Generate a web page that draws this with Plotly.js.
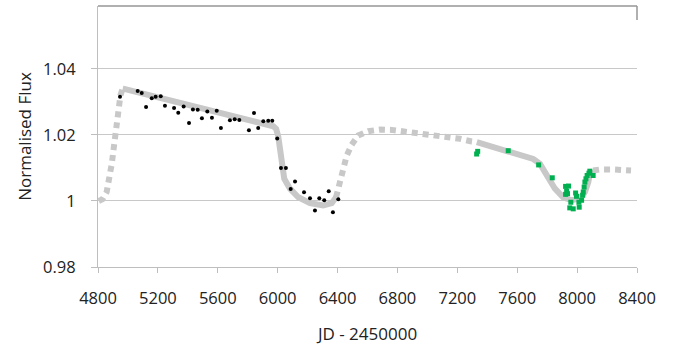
<!DOCTYPE html>
<html>
<head>
<meta charset="utf-8">
<script src="https://cdn.plot.ly/plotly-3.0.1.min.js"></script>
<style>html,body{margin:0;padding:0;background:#fff;}#chart{width:677px;height:351px;}</style>
</head>
<body>
<div id="chart"></div>
<script>
// Model curve pieces (dotted = gaps, solid = observed stretches)
const modelDot1X = [4805, 4830, 4858, 4880, 4893, 4905, 4915, 4925, 4937, 4950, 4965];
const modelDot1Y = [1.000, 1.0005, 1.0027, 1.0072, 1.0115, 1.016, 1.020, 1.024, 1.028, 1.032, 1.034];

const modelSolid1X = [4965, 4975, 5971, 5990, 6004, 6015, 6027, 6044, 6082, 6138, 6216, 6304, 6361, 6390];
const modelSolid1Y = [1.034, 1.0339, 1.0226, 1.0218, 1.0195, 1.0152, 1.0102, 1.0067, 1.0037, 1.0011, 0.9993, 0.9986, 0.9993, 1.0011];

const modelDot2X = [6390, 6420, 6461, 6494, 6538, 6605, 6683, 6761, 6839, 6917, 6995, 7066, 7144, 7218, 7296, 7330];
const modelDot2Y = [1.0011, 1.006, 1.0137, 1.017, 1.0198, 1.0211, 1.0216, 1.0215, 1.0211, 1.0206, 1.0203, 1.0200, 1.0195, 1.0188, 1.0180, 1.0178];

const modelSolid2X = [7330, 7540, 7650, 7707, 7752, 7796, 7852, 7907, 7963, 8019, 8052, 8075, 8085, 8107];
const modelSolid2Y = [1.0178, 1.0147, 1.0135, 1.0127, 1.0112, 1.0077, 1.0037, 1.0011, 1.0002, 1.0007, 1.0027, 1.0057, 1.0082, 1.0092];

const modelDot3X = [8107, 8150, 8250, 8360];
const modelDot3Y = [1.0092, 1.0095, 1.0095, 1.0092];

// Observations (black)
const blackX = [4947, 5065, 5092, 5121, 5159, 5185, 5219, 5247, 5308, 5336, 5372, 5408, 5434,
  5466, 5494, 5530, 5561, 5593, 5621, 5681, 5713, 5744, 5808, 5842, 5870, 5904, 5937, 5964,
  5997, 6022, 6055, 6116, 6087, 6176, 6216, 6249, 6278, 6311, 6341, 6369, 6405];
const blackY = [1.0315, 1.0333, 1.0327, 1.0284, 1.0311, 1.0315, 1.0317, 1.0288, 1.0281, 1.0267, 1.0286, 1.0236, 1.0277,
  1.0276, 1.0250, 1.0271, 1.0252, 1.0273, 1.0221, 1.0244, 1.0247, 1.0245, 1.0214, 1.0266, 1.0221, 1.0241, 1.0243, 1.0243,
  1.0189, 1.0100, 1.0100, 1.0059, 1.0036, 1.0026, 1.0008, 0.9971, 1.0008, 1.0002, 1.0029, 0.9966, 1.0005];

// Observations (green)
const greenX = [7329, 7336, 7540, 7743, 7834, 7923, 7943, 7930, 7923, 7936, 7958, 7951, 7974, 7990, 7996,
  8012, 8014, 8030, 8037, 8041, 8047, 8052, 8059, 8067, 8079, 8085, 8107];
const greenY = [1.0142, 1.0150, 1.0152, 1.0109, 1.0070, 1.0044, 1.0045, 1.0030, 1.0020, 1.0022, 0.9996, 0.9979, 0.9976, 1.0024, 1.0014,
  0.9996, 0.9981, 1.0002, 1.0017, 1.0027, 1.0042, 1.0057, 1.0067, 1.0077, 1.0084, 1.0090, 1.0077];

const xTicks = [4800, 5200, 5600, 6000, 6400, 6800, 7200, 7600, 8000, 8400];
const yTicks = [0.98, 1, 1.02, 1.04];
const yTickText = ['0.98', '1', '1.02', '1.04'];

const gray = 'rgb(200,200,200)';
const dotLine = {color: gray, width: 6, dash: '6px,5px'};
const solidLine = {color: gray, width: 6};

const traces = [
  {x: modelDot1X, y: modelDot1Y, mode: 'lines', line: dotLine, hoverinfo: 'skip'},
  {x: modelSolid1X, y: modelSolid1Y, mode: 'lines', line: solidLine, hoverinfo: 'skip'},
  {x: modelDot2X, y: modelDot2Y, mode: 'lines', line: dotLine, hoverinfo: 'skip'},
  {x: modelSolid2X, y: modelSolid2Y, mode: 'lines', line: solidLine, hoverinfo: 'skip'},
  {x: modelDot3X, y: modelDot3Y, mode: 'lines', line: dotLine, hoverinfo: 'skip'},
  {x: blackX, y: blackY, mode: 'markers', marker: {color: '#000', size: 4, symbol: 'circle'}},
  {x: greenX, y: greenY, mode: 'markers', marker: {color: 'rgb(0,176,80)', size: 5, symbol: 'square'}}
];

const fnt = {family: 'Open Sans, sans-serif', size: 16.5, color: '#222'};
const tfnt = {family: 'Open Sans, sans-serif', size: 17, color: '#222'};
const layout = {
  width: 677, height: 351,
  margin: {l: 98, r: 40, t: 6, b: 84},
  paper_bgcolor: '#fff', plot_bgcolor: '#fff',
  showlegend: false,
  font: fnt,
  xaxis: {
    range: [4800, 8400], tickvals: xTicks, ticktext: xTicks.map(String),
    showgrid: false, zeroline: false,
    showline: true, linecolor: 'rgb(190,190,190)', linewidth: 1,
    ticks: 'outside', ticklen: 5, tickcolor: 'rgb(190,190,190)',
    ticklabelstandoff: 11, tickfont: fnt,
    title: {text: 'JD - 2450000', font: tfnt, standoff: 20}
  },
  yaxis: {
    range: [0.98, 1.059], tickvals: yTicks, ticktext: yTickText,
    showgrid: true, gridcolor: 'rgb(200,200,200)', gridwidth: 1, zeroline: false,
    showline: true, linecolor: 'rgb(190,190,190)', linewidth: 1,
    ticks: 'outside', ticklen: 6, tickcolor: 'rgb(190,190,190)',
    ticklabelstandoff: 12, tickfont: fnt,
    title: {text: 'Normalised Flux', font: tfnt, standoff: 7}
  },
  shapes: [
    {type: 'line', xref: 'paper', yref: 'paper', x0: 0, x1: 1, y0: 1, y1: 1, line: {color: 'rgb(150,150,150)', width: 1.5}},
    {type: 'line', xref: 'paper', yref: 'paper', x0: 1, x1: 1, y0: 1, y1: 0.946, line: {color: 'rgb(150,150,150)', width: 1.5}}
  ]
};

Plotly.newPlot('chart', traces, layout, {staticPlot: true, displayModeBar: false});
</script>
</body>
</html>
